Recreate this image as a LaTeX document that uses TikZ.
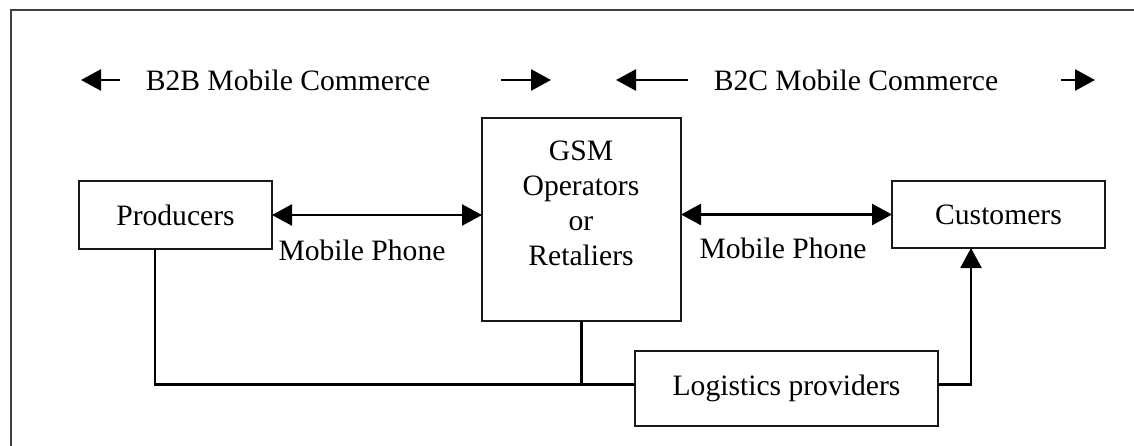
\documentclass[tikz,border=0pt]{standalone}
\usepackage{fontspec}
\setmainfont{Liberation Serif}
\usetikzlibrary{arrows.meta}
\tikzset{
  txt/.style={font=\fontsize{29.6}{35}\selectfont, inner sep=0pt, outer sep=0pt},
  box/.style={draw=black!90, line width=1.8pt, inner sep=0pt, outer sep=0pt, font=\fontsize{29.6}{35}\selectfont},
  conn/.style={line width=2.5pt, black},
  tip/.style={-{Triangle[length=20pt,width=21pt]}},
  dtip/.style={{Triangle[length=20pt,width=21pt]}-{Triangle[length=20pt,width=21pt]}},
  frame/.style={draw=black!75, line width=2pt}
}
\begin{document}
\begin{tikzpicture}[x=1pt,y=-1pt]
\useasboundingbox (0,0) rectangle (1134,446);
% outer frame (open to the right and bottom)
\coordinate (fb) at (11,446);
\coordinate (fc) at (11,10);
\coordinate (fr) at (1134,10);
\draw[frame] (fb) -- (fc) -- (fr);

% top row
\node[txt] (b2b) at (288,80) {B2B Mobile Commerce};
\node[txt] (b2c) at (856,80) {B2C Mobile Commerce};
\coordinate (b2bLs) at (120,80);
\coordinate (b2bLe) at (81,80);
\coordinate (b2bRs) at (501,80);
\coordinate (b2bRe) at (551,80);
\coordinate (b2cLs) at (688,80);
\coordinate (b2cLe) at (616,80);
\coordinate (b2cRs) at (1061,80);
\coordinate (b2cRe) at (1095,80);
\draw[conn,tip] (b2bLs) -- (b2bLe);
\draw[conn,tip] (b2bRs) -- (b2bRe);
\draw[conn,tip] (b2cLs) -- (b2cLe);
\draw[conn,tip] (b2cRs) -- (b2cRe);

% boxes
\node[box, minimum width=193pt, minimum height=68pt] (prod) at (175.5,215) {Producers};
\node[box, minimum width=199pt, minimum height=203pt] (gsm) at (581.5,219.5) {};
\node[txt, align=center] (gsmtxt) at (581,203) {GSM\\Operators\\or\\Retaliers};
\node[box, minimum width=213pt, minimum height=67pt] (cust) at (998.5,214.5) {Customers};
\node[box, minimum width=303pt, minimum height=75pt] (logi) at (786.5,388.5) {Logistics providers};

% mobile phone links
\draw[conn,dtip] (prod.east) -- (prod.east -| gsm.west);
\draw[conn,dtip] (gsm.east |- cust.west) -- (cust.west);
\node[txt] (mp1) at (362,250) {Mobile Phone};
\node[txt] (mp2) at (783,248) {Mobile Phone};

% logistics lines
\coordinate (lw) at ([yshift=4pt]logi.west);
\coordinate (j) at (gsm.south |- lw);
\draw[conn] ([xshift=-20.5pt]prod.south) |- (lw);
\draw[conn] (gsm.south) -- (j);
\draw[conn,tip] ([yshift=4pt]logi.east) -| ([xshift=-27.5pt]cust.south);
\end{tikzpicture}
\end{document}
